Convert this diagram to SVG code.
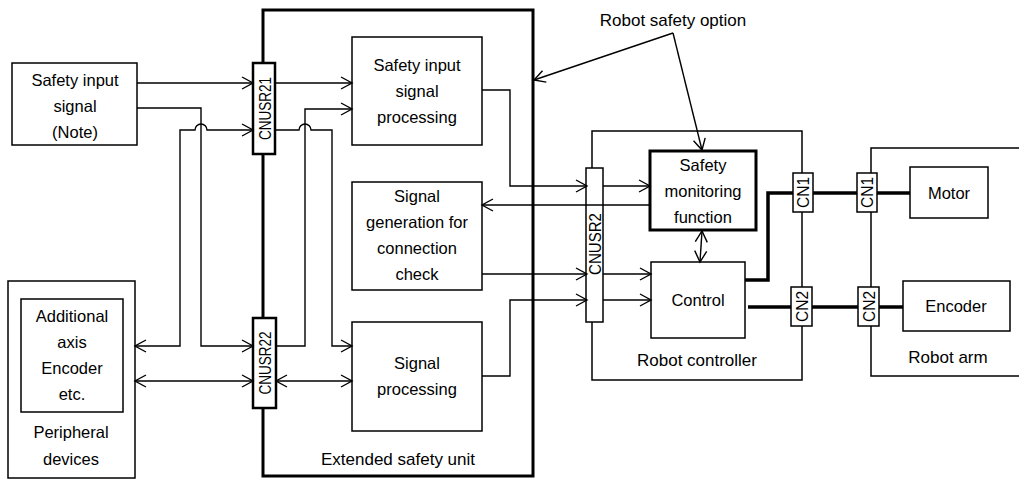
<svg xmlns="http://www.w3.org/2000/svg" width="1019" height="481" viewBox="0 0 1019 481">
<style>
  .box{fill:#fff;stroke:#000;stroke-width:1.5}
  .thick{fill:#fff;stroke:#000;stroke-width:3}
  .con{fill:#fff;stroke:#000;stroke-width:2.5}
  .cn{fill:#fff;stroke:#000;stroke-width:1.5}
  .ln{fill:none;stroke:#000;stroke-width:1.4}
  .tl{fill:none;stroke:#000;stroke-width:3.5}
  text{font-family:"Liberation Sans",Arial,sans-serif;font-size:16.5px;fill:#000;text-anchor:middle}
  .lbl{font-size:17px}
  .rot{font-size:17px}
  .rs{font-size:16px}
</style>
<defs>
  <marker id="a" markerUnits="userSpaceOnUse" markerWidth="14" markerHeight="14" refX="11" refY="6" orient="auto-start-reverse" viewBox="-1 -1 14 14">
    <path d="M0,0 L11,6 L0,12" fill="none" stroke="#000" stroke-width="1.4"/>
  </marker>
</defs>

<g id="safety-input-signal">
  <rect class="box" x="12" y="63" width="125" height="82"/>
  <text x="75" y="86">Safety input</text>
  <text x="75" y="112">signal</text>
  <text x="75" y="138">(Note)</text>
</g>

<g id="peripheral-devices">
  <rect class="box" x="8" y="281" width="127" height="197"/>
  <rect class="box" x="21" y="299" width="102" height="113"/>
  <text x="72" y="322">Additional</text>
  <text x="72" y="348">axis</text>
  <text x="72" y="374">Encoder</text>
  <text x="72" y="400">etc.</text>
  <text x="71" y="438">Peripheral</text>
  <text x="71" y="465">devices</text>
</g>

<g id="extended-safety-unit">
  <rect x="263" y="10" width="270" height="466" fill="none" stroke="#000" stroke-width="3"/>
  <text class="lbl" x="398" y="465">Extended safety unit</text>
</g>

<g id="cnusr21">
  <rect class="con" x="253" y="63" width="22" height="91"/>
  <text class="rot" transform="translate(270.5,108.5) rotate(-90)" textLength="63" lengthAdjust="spacingAndGlyphs">CNUSR21</text>
</g>

<g id="cnusr22">
  <rect class="con" x="253" y="318" width="23" height="90"/>
  <text class="rot" transform="translate(271,363) rotate(-90)" textLength="63" lengthAdjust="spacingAndGlyphs">CNUSR22</text>
</g>

<g id="safety-input-signal-processing">
  <rect class="box" x="352" y="37" width="130" height="108"/>
  <text x="417" y="71">Safety input</text>
  <text x="417" y="97">signal</text>
  <text x="417" y="123">processing</text>
</g>

<g id="signal-generation">
  <rect class="box" x="352" y="182" width="130" height="108"/>
  <text x="417" y="202">Signal</text>
  <text x="417" y="228">generation for</text>
  <text x="417" y="254">connection</text>
  <text x="417" y="280">check</text>
</g>

<g id="signal-processing">
  <rect class="box" x="352" y="322" width="130" height="109"/>
  <text x="417" y="369">Signal</text>
  <text x="417" y="395">processing</text>
</g>

<g id="robot-controller">
  <rect class="box" x="592" y="131" width="210" height="249" fill="none"/>
  <text class="lbl" x="697" y="366">Robot controller</text>
</g>

<g id="cnusr2">
  <rect class="cn" x="586" y="168" width="17" height="154"/>
  <text class="rot" transform="translate(600.5,244) rotate(-90)" textLength="62" lengthAdjust="spacingAndGlyphs">CNUSR2</text>
</g>

<g id="safety-monitoring-function">
  <rect class="thick" x="650" y="151" width="106" height="79"/>
  <text x="703" y="171">Safety</text>
  <text x="703" y="197">monitoring</text>
  <text x="703" y="223">function</text>
</g>

<g id="control">
  <rect class="box" x="651" y="262" width="94" height="76"/>
  <text x="698" y="306">Control</text>
</g>

<g id="robot-arm">
  <path d="M1019,148 H871 V376 H1019" fill="none" stroke="#000" stroke-width="1.5"/>
  <text class="lbl" x="948" y="363">Robot arm</text>
</g>

<g id="motor">
  <rect class="box" x="910" y="167" width="78" height="51"/>
  <text x="949" y="199">Motor</text>
</g>

<g id="encoder">
  <rect class="box" x="903" y="281" width="107" height="50"/>
  <text x="956" y="312">Encoder</text>
</g>

<g id="robot-safety-option">
  <text class="lbl" x="673" y="26">Robot safety option</text>
</g>

<g id="connectors">
  <path class="ln" d="M137,83 H253" marker-end="url(#a)"/>
  <path class="ln" d="M137,108 H201 V346 H253" marker-end="url(#a)"/>
  <path class="ln" d="M135,346 H180 V130 H195 a6,6 0 0 1 12,0 H253" marker-start="url(#a)" marker-end="url(#a)"/>
  <path class="ln" d="M135,381 H253" marker-start="url(#a)" marker-end="url(#a)"/>
  <path class="ln" d="M275,83 H352" marker-end="url(#a)"/>
  <path class="ln" d="M276,346 H305 V109 H352" marker-end="url(#a)"/>
  <path class="ln" d="M275,130 H299 a6,6 0 0 1 12,0 H332 V346 H352" marker-end="url(#a)"/>
  <path class="ln" d="M276,381 H352" marker-start="url(#a)" marker-end="url(#a)"/>
  <path class="ln" d="M482,90 H510 V186 H587" marker-end="url(#a)"/>
  <path class="ln" d="M650,205 H482" marker-end="url(#a)"/>
  <path class="ln" d="M482,274 H587" marker-end="url(#a)"/>
  <path class="ln" d="M482,376 H510 V300 H587" marker-end="url(#a)"/>
  <path class="ln" d="M603,186 H650" marker-end="url(#a)"/>
  <path class="ln" d="M603,274 H651" marker-end="url(#a)"/>
  <path class="ln" d="M603,300 H651" marker-end="url(#a)"/>
  <path class="ln" d="M702,231 L700,262" marker-start="url(#a)" marker-end="url(#a)"/>
  <path class="ln" d="M673,33 L534,80" marker-end="url(#a)"/>
  <path class="ln" d="M673,33 L702,150" marker-end="url(#a)"/>
  <path class="tl" d="M745,280 H768 V193 H793"/>
  <path class="tl" d="M813,193 H857"/>
  <path class="tl" d="M877,193 H910"/>
  <path class="tl" d="M748,307 H791"/>
  <path class="tl" d="M812,307 H858"/>
  <path class="tl" d="M879,307 H903"/>
</g>

<g id="cn1-controller">
  <rect class="cn" x="793" y="173" width="20" height="39"/>
  <text class="rs" transform="translate(809,192.5) rotate(-90)" textLength="31" lengthAdjust="spacingAndGlyphs">CN1</text>
</g>
<g id="cn2-controller">
  <rect class="cn" x="791" y="287" width="21" height="39"/>
  <text class="rs" transform="translate(807.5,306.5) rotate(-90)" textLength="31" lengthAdjust="spacingAndGlyphs">CN2</text>
</g>
<g id="cn1-arm">
  <rect class="cn" x="857" y="173" width="20" height="39"/>
  <text class="rs" transform="translate(873,192.5) rotate(-90)" textLength="31" lengthAdjust="spacingAndGlyphs">CN1</text>
</g>
<g id="cn2-arm">
  <rect class="cn" x="858" y="287" width="21" height="39"/>
  <text class="rs" transform="translate(874.5,306.5) rotate(-90)" textLength="31" lengthAdjust="spacingAndGlyphs">CN2</text>
</g>
</svg>
